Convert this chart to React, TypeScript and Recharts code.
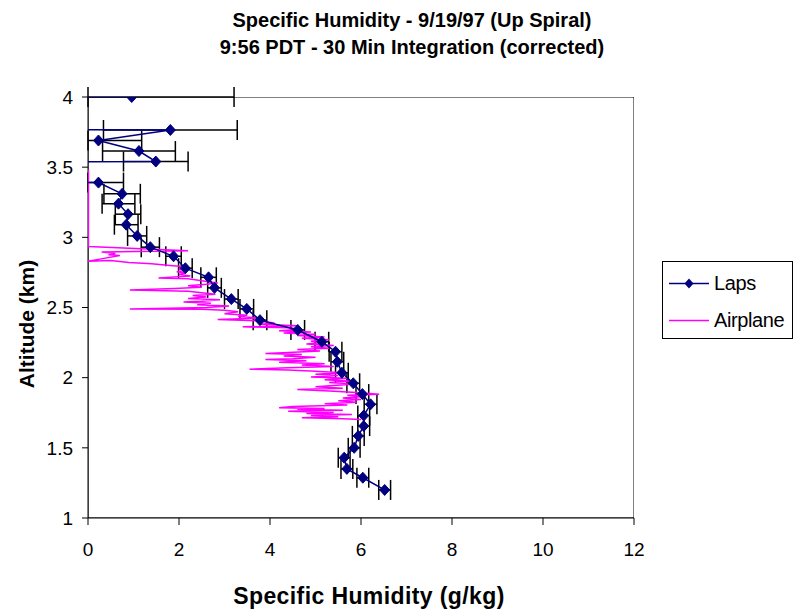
import React from 'react';
import {
  ScatterChart,
  Scatter,
  XAxis,
  YAxis,
  ErrorBar,
  ReferenceArea,
  Legend,
} from 'recharts';

// Laps (altitude km, humidity g/kg, error). -99 = missing value in the source file
const lapsAlt = [
  4.0, 3.92, 3.84, 3.765, 3.69, 3.615, 3.54, 3.46, 3.39, 3.31, 3.24, 3.165, 3.09,
  3.01, 2.93, 2.865, 2.78, 2.715, 2.64, 2.56, 2.49, 2.41, 2.34, 2.256, 2.185,
  2.113, 2.035, 1.96, 1.883, 1.81, 1.73, 1.655, 1.585, 1.5, 1.43, 1.35, 1.287, 1.2,
];
const lapsHum = [
  0.96, -99, -99, 1.81, 0.23, 1.12, 1.49, -99, 0.23, 0.75, 0.67, 0.88, 0.84,
  1.08, 1.37, 1.88, 2.14, 2.65, 2.78, 3.15, 3.49, 3.78, 4.61, 5.14, 5.44,
  5.48, 5.58, 5.83, 6.03, 6.21, 6.06, 6.06, 5.94, 5.85, 5.63, 5.69, 6.04, 6.52,
];
const lapsErr = [
  2.25, 0, 0, 1.47, 0.95, 0.8, 0.71, 0, 0.55, 0.4, 0.36, 0.28, 0.26,
  0.21, 0.2, 0.17, 0.15, 0.17, 0.15, 0.15, 0.15, 0.15, 0.15, 0.15, 0.14,
  0.14, 0.14, 0.14, 0.14, 0.14, 0.13, 0.13, 0.13, 0.13, 0.13, 0.13, 0.13, 0.13,
];

// Airplane trace, top to bottom
const planeAlt = [
  3.48, 2.935, 2.905, 2.895, 2.885, 2.875, 2.87, 2.85, 2.83, 2.835, 2.82, 2.812,
  2.8, 2.79, 2.775, 2.765, 2.755, 2.745, 2.735, 2.725, 2.71, 2.705, 2.69, 2.675,
  2.665, 2.655, 2.645, 2.635, 2.625, 2.62, 2.615, 2.605, 2.595, 2.585, 2.575,
  2.565, 2.555, 2.545, 2.54, 2.53, 2.52, 2.51, 2.5, 2.49, 2.488, 2.48, 2.47,
  2.455, 2.445, 2.435, 2.425, 2.415, 2.405, 2.39, 2.38, 2.37, 2.362, 2.355,
  2.345, 2.335, 2.325, 2.318, 2.31, 2.3, 2.29, 2.28, 2.27, 2.26, 2.25, 2.24,
  2.23, 2.22, 2.21, 2.2, 2.19, 2.18, 2.173, 2.165, 2.155, 2.145, 2.135, 2.13,
  2.12, 2.11, 2.1, 2.09, 2.08, 2.07, 2.06, 2.055, 2.045, 2.035, 2.025, 2.015,
  2.005, 1.995, 1.985, 1.975, 1.965, 1.955, 1.945, 1.935, 1.925, 1.915, 1.905,
  1.895, 1.882, 1.875, 1.865, 1.855, 1.845, 1.835, 1.825, 1.815, 1.805, 1.795,
  1.785, 1.78, 1.775, 1.768, 1.76, 1.752, 1.745, 1.738, 1.73, 1.722, 1.715,
  1.708, 1.702,
];
const planeHum = [
  0.01, 0.01, 2.2, 0.3, 0.6, 0.45, 0.7, 0.35, 0.0, 0.5, 0.9, 1.4,
  1.8, 2.15, 2.0, 2.2, 1.95, 2.15, 2.0, 2.25, 1.55, 2.2, 2.5, 2.85,
  2.6, 2.2, 2.5, 1.9, 0.92, 1.7, 2.2, 2.5, 2.8, 2.3, 2.6,
  2.2, 2.9, 2.5, 2.1, 2.7, 2.4, 3.1, 2.6, 0.92, 2.5, 3.0, 3.3,
  3.0, 3.5, 3.3, 3.8, 2.85, 3.7, 4.1, 3.8, 4.6, 3.4, 4.4,
  4.7, 4.2, 4.9, 4.3, 5.0, 4.6, 5.2, 4.7, 5.3, 4.9, 5.2, 4.8,
  5.4, 4.9, 5.3, 4.6, 5.1, 4.4, 3.9, 4.7, 4.3, 5.0, 4.5, 3.9,
  4.8, 4.2, 5.2, 4.7, 5.4, 4.4, 3.55, 4.4, 5.0, 5.6, 5.0, 5.5,
  4.9, 5.7, 5.2, 5.8, 5.3, 5.9, 5.4, 5.0, 5.6, 4.6, 5.3,
  5.9, 6.4, 5.7, 6.1, 5.6, 6.0, 5.5, 5.9, 5.2, 5.7, 4.5,
  4.2, 5.2, 4.6, 5.6, 4.4, 5.4, 4.8, 5.8, 4.9, 5.5, 4.7,
  5.6, 6.0,
];

const xTicks = [0, 2, 4, 6, 8, 10, 12];
const yTicks = [1, 1.5, 2, 2.5, 3, 3.5, 4];

// error bars stop at the left edge of the plot, like in the original
const lapsData = lapsAlt.map((a, i) => {
  const x = lapsHum[i];
  const e = lapsErr[i];
  return { x, y: a, err: [x < 0 ? 0 : Math.min(e, x), e] };
});
const planeData = planeAlt.map((a, i) => ({ x: planeHum[i], y: a }));

const FONT = '"Liberation Sans", Arial, sans-serif';
const NAVY = '#000080';
const PINK = '#FF00FF';

const Diamond = (props: any) => {
  const { cx, cy } = props;
  if (cx == null || cy == null) return <g />;
  return (
    <polygon
      points={`${cx},${cy - 5.5} ${cx + 5},${cy} ${cx},${cy + 5.5} ${cx - 5},${cy}`}
      fill={NAVY}
      stroke={NAVY}
    />
  );
};

const LegendBox = () => (
  <div
    style={{
      width: 129,
      height: 76,
      border: '1px solid #000',
      background: '#fff',
      fontFamily: FONT,
      fontSize: 20,
      color: '#000',
      position: 'relative',
    }}
  >
    <svg width={50} height={76} style={{ position: 'absolute', left: 0, top: 0 }}>
      <line x1={6} x2={46} y1={21.5} y2={21.5} stroke={NAVY} strokeWidth={1.5} />
      <polygon points="26,16.5 30.5,21.5 26,26.5 21.5,21.5" fill={NAVY} />
      <line x1={6} x2={46} y1={58.5} y2={58.5} stroke={PINK} strokeWidth={1.5} />
    </svg>
    <div style={{ position: 'absolute', left: 51, top: 9, lineHeight: '24px', letterSpacing: -0.4 }}>Laps</div>
    <div style={{ position: 'absolute', left: 51, top: 46, lineHeight: '24px', letterSpacing: -0.4 }}>Airplane</div>
  </div>
);

const titleStyle: React.CSSProperties = {
  position: 'absolute',
  left: 162,
  width: 500,
  textAlign: 'center',
  fontFamily: FONT,
  fontWeight: 'bold',
  fontSize: 20,
  lineHeight: '24px',
  letterSpacing: 0,
  color: '#000',
};

export default function App() {
  return (
    <div style={{ position: 'absolute', left: 0, top: 0, width: 796, height: 613, background: '#fff' }}>
      <div style={{ ...titleStyle, top: 8 }}>Specific Humidity - 9/19/97 (Up Spiral)</div>
      <div style={{ ...titleStyle, top: 35 }}>9:56 PDT - 30 Min Integration (corrected)</div>
      <div
        style={{
          ...titleStyle,
          left: 119,
          width: 500,
          top: 584,
          fontSize: 23,
          letterSpacing: 0.4,
        }}
      >
        Specific Humidity (g/kg)
      </div>
      <div
        style={{
          ...titleStyle,
          left: 27 - 100,
          width: 200,
          top: 324 - 12,
          fontSize: 21,
          transform: 'rotate(-90deg)',
        }}
      >
        Altitude (km)
      </div>
      <ScatterChart
        width={796}
        height={613}
        margin={{ top: 97, right: 162, left: 28, bottom: 55 }}
        style={{ fontFamily: FONT }}
      >
        <ReferenceArea x1={0} x2={12} y1={1} y2={4} fill="none" stroke="#000" strokeWidth={1} ifOverflow="hidden" />
        <XAxis
          type="number"
          dataKey="x"
          domain={[0, 12]}
          ticks={xTicks}
          allowDataOverflow
          height={40}
          tickSize={7}
          tickMargin={18}
          stroke="#000"
          tick={{ fill: '#000', fontSize: 19, fontFamily: FONT }}
        />
        <YAxis
          type="number"
          dataKey="y"
          domain={[1, 4]}
          ticks={yTicks}
          allowDataOverflow
          width={60}
          tickSize={6}
          tickMargin={9}
          stroke="#000"
          tick={{ fill: '#000', fontSize: 19, fontFamily: FONT }}
        />
        <Scatter
          name="Airplane"
          data={planeData}
          line={{ stroke: PINK, strokeWidth: 1.5 }}
          shape={() => <g />}
          isAnimationActive={false}
        />
        <Scatter
          name="Laps"
          data={lapsData}
          line={{ stroke: NAVY, strokeWidth: 1.5 }}
          shape={Diamond}
          isAnimationActive={false}
        >
          <ErrorBar dataKey="err" direction="x" width={10} stroke="#000" strokeWidth={1.5} />
        </Scatter>
        <Legend
          layout="horizontal"
          align="center"
          verticalAlign="middle"
          content={() => <LegendBox />}
          wrapperStyle={{ left: 662, top: 261, width: 131, height: 78 }}
        />
      </ScatterChart>
    </div>
  );
}
